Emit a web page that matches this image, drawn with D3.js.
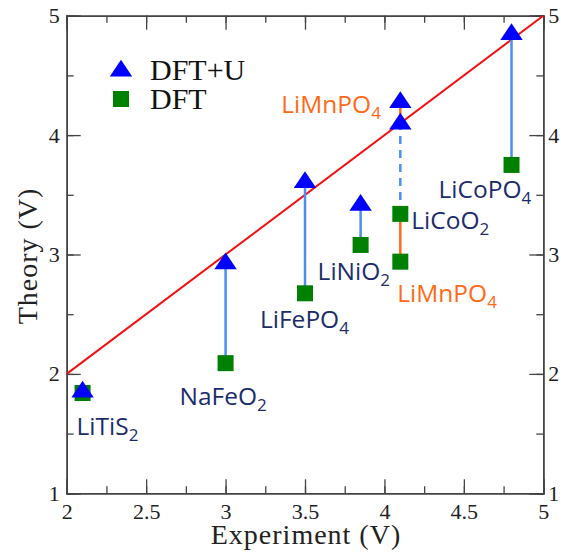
<!DOCTYPE html>
<html>
<head>
<meta charset="utf-8">
<script src="https://cdn.jsdelivr.net/npm/d3@7"></script>
<style>
  body { margin: 0; background: #fff; }
</style>
</head>
<body>
<script>
// compounds, experimental voltage, DFT and DFT+U voltages
var names   = ["LiTiS2", "NaFeO2", "LiFePO4", "LiNiO2", "LiCoO2", "LiMnPO4", "LiCoPO4"];
var formula = [["LiTiS", "2"], ["NaFeO", "2"], ["LiFePO", "4"], ["LiNiO", "2"], ["LiCoO", "2"], ["LiMnPO", "4"], ["LiCoPO", "4"]];
var expt    = [2.1, 3.0, 3.5, 3.85, 4.1, 4.1, 4.8];
var dft     = [1.84, 2.09, 2.675, 3.08, 3.34, 2.94, 3.75];
var dftU    = [1.865, 2.94, 3.62, 3.43, 4.11, 4.29, 4.86];

var xTicks = [2, 2.5, 3, 3.5, 4, 4.5, 5];
var yTicks = [1, 2, 3, 4, 5];

var width = 561, height = 555;
var navy = "#1c2d6b", orange = "#ff6a17", connBlue = "#4a8ff2";

var x = d3.scaleLinear().domain([2, 5]).range([66.7, 543.3]);
var y = d3.scaleLinear().domain([1, 5]).range([493.3, 15.7]);

var svg = d3.select("body")
    .append("svg")
        .attr("width", width)
        .attr("height", height);

svg.append("rect").attr("width", width).attr("height", height).attr("fill", "#fff");

// axes: ticks point inward on all four sides
function tickAxis(axis, tr, major, minor) {
  var gMin = svg.append("g").attr("transform", tr)
      .call(axis.tickValues(minor).tickSize(7).tickFormat(""));
  var gMaj = svg.append("g").attr("transform", tr)
      .call(axis.tickValues(major).tickSize(14).tickFormat(d3.format("")));
  [gMin, gMaj].forEach(function(g) {
    g.selectAll("line").attr("stroke", "#444").attr("stroke-width", 1.3);
    g.select(".domain").attr("stroke", "#444").attr("stroke-width", 1.5);
  });
  return gMaj;
}
var xMinor = d3.range(2, 5.01, 0.25), yMinor = d3.range(1, 5.01, 0.5);

var axBottom = tickAxis(d3.axisTop(x).tickSizeOuter(0), "translate(0,493.3)", xTicks, xMinor);
axBottom.selectAll("text").attr("y", 10).attr("dy", "0.71em");
var axTop = tickAxis(d3.axisBottom(x).tickSizeOuter(0), "translate(0,15.7)", xTicks, xMinor);
axTop.selectAll("text").remove();
var axLeft = tickAxis(d3.axisRight(y).tickSizeOuter(0), "translate(66.7,0)", yTicks, yMinor);
axLeft.selectAll("text").attr("x", -7).attr("text-anchor", "end");
var axRight = tickAxis(d3.axisLeft(y).tickSizeOuter(0), "translate(543.3,0)", yTicks, yMinor);
axRight.selectAll("text").attr("x", 5).attr("text-anchor", "start");

svg.selectAll(".tick text")
    .attr("font-family", "'Liberation Serif', 'Times New Roman', serif")
    .attr("font-size", 22)
    .attr("fill", "#222");

// axis titles
svg.append("text")
    .attr("x", 306).attr("y", 544)
    .attr("text-anchor", "middle")
    .attr("font-family", "'Liberation Serif', serif")
    .attr("font-size", 28)
    .attr("letter-spacing", 1)
    .attr("fill", "#222")
    .text("Experiment (V)");
svg.append("text")
    .attr("transform", "translate(37,256) rotate(-90)")
    .attr("text-anchor", "middle")
    .attr("font-family", "'Liberation Serif', serif")
    .attr("font-size", 28)
    .attr("letter-spacing", 1)
    .attr("fill", "#222")
    .text("Theory (V)");

// y = x line
svg.append("line")
    .attr("x1", x(2)).attr("y1", y(2))
    .attr("x2", x(5)).attr("y2", y(5))
    .attr("stroke", "#f21010").attr("stroke-width", 2);

// connectors DFT -> DFT+U
var iCo = names.indexOf("LiCoO2"), iMn = names.indexOf("LiMnPO4");
names.forEach(function(n, i) {
  if (i === iMn) return;
  svg.append("line")
      .attr("x1", x(expt[i])).attr("y1", y(dft[i]))
      .attr("x2", x(expt[i])).attr("y2", y(dftU[i]))
      .attr("stroke", connBlue).attr("stroke-width", 2.5)
      .attr("stroke-dasharray", i === iCo ? "8,6" : null);
});
// LiMnPO4 connector, visible only outside the LiCoO2 span
[[dft[iMn], dft[iCo]], [dftU[iCo], dftU[iMn]]].forEach(function(s) {
  svg.append("line")
      .attr("x1", x(expt[iMn])).attr("y1", y(s[0]))
      .attr("x2", x(expt[iMn])).attr("y2", y(s[1]))
      .attr("stroke", orange).attr("stroke-width", 2.5);
});

var tri = d3.symbol().type(d3.symbolTriangle).size(180);

// DFT squares
svg.selectAll("rect.dft")
    .data(dft)
    .enter().append("rect")
      .attr("class", "dft")
      .attr("x", function(d, i) { return x(expt[i]) - 8; })
      .attr("y", function(d) { return y(d) - 8; })
      .attr("width", 16).attr("height", 16)
      .attr("fill", "#008000");

// DFT+U triangles
svg.selectAll("path.dftu")
    .data(dftU)
    .enter().append("path")
      .attr("class", "dftu")
      .attr("d", tri)
      .attr("transform", function(d, i) { return "translate(" + x(expt[i]) + "," + (y(d) + 2) + ") scale(1.1,0.95)"; })
      .attr("fill", "#0000ff");

// compound labels: [index, anchor (dft / dftU), dx, dy, color]
var labelPos = [
  [0, "dft", -6, 42, navy],
  [1, "dft", -46, 42, navy],
  [2, "dft", -45, 35, navy],
  [3, "dft", -43, 35, navy],
  [4, "dft", 11, 15, navy],
  [5, "dft", -3, 40, orange],
  [5, "dftU", -119, 13, orange],
  [6, "dft", -73, 33, navy]
];
labelPos.forEach(function(p) {
  var i = p[0];
  var v = p[1] === "dft" ? dft[i] : dftU[i];
  var t = svg.append("text")
      .attr("x", x(expt[i]) + p[2])
      .attr("y", y(v) + p[3])
      .attr("font-family", "'Open Sans', sans-serif")
      .attr("font-size", 24.5)
      .attr("fill", p[4]);
  t.append("tspan").text(formula[i][0]);
  t.append("tspan").attr("dy", 6).attr("font-size", 17).text(formula[i][1]);
});

// legend
var legend = [["DFT+U", "tri"], ["DFT", "sq"]];
legend.forEach(function(l, k) {
  var ly = 70 + k * 29;
  if (l[1] === "tri") {
    svg.append("path").attr("d", tri)
        .attr("transform", "translate(121," + (ly + 1) + ") scale(1.1,0.95)")
        .attr("fill", "#0000ff");
  } else {
    svg.append("rect").attr("x", 113).attr("y", ly - 8).attr("width", 16).attr("height", 16)
        .attr("fill", "#008000");
  }
  svg.append("text")
      .attr("x", 150).attr("y", ly + 10)
      .attr("font-family", "'Liberation Serif', serif")
      .attr("font-size", 30)
      .attr("fill", "#111")
      .text(l[0]);
});
</script>
</body>
</html>
